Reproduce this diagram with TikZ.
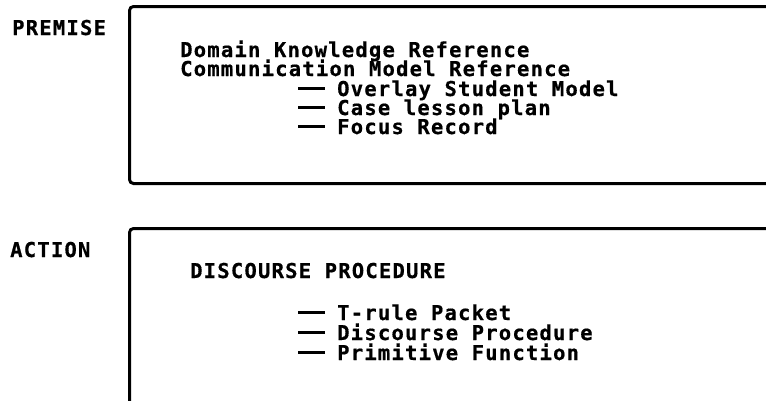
\documentclass[tikz,border=0pt]{standalone}
\usepackage{fontspec}
\newfontfamily\dmono{DejaVu Sans Mono}[LetterSpace=6,BoldFeatures={FakeBold=0.6}]
\newcommand{\itemdash}{\rule[6pt]{27pt}{3.5pt}\hspace{12pt}}
\begin{document}
\begin{tikzpicture}[x=1pt,y=-1pt,
  lbl/.style={anchor=base west,inner sep=0pt,font=\dmono\bfseries\fontsize{20.5pt}{20.5pt}\selectfont},
  framebox/.style={draw,line width=3pt,rounded corners=4pt,anchor=north west,inner sep=0pt}]
\useasboundingbox (0,0) rectangle (766,400);
\clip (0,0) rectangle (766,400);
% boxes
\node[framebox,minimum width=700pt,minimum height=177pt] (premisebox) at (128,5) {};
\node[framebox,minimum width=700pt,minimum height=220pt] (actionbox) at (128,227) {};
% labels
\node[lbl] (premise) at (12,35) {PREMISE};
\node[lbl] (action) at (10,257) {ACTION};
% premise content
\node[lbl] (p1) at (180,57) {Domain Knowledge Reference};
\node[lbl] (p2) at (180,76) {Communication Model Reference};
\node[lbl] (p3) at (298,96) {\itemdash Overlay Student Model};
\node[lbl] (p4) at (298,115) {\itemdash Case lesson plan};
\node[lbl] (p5) at (298,134) {\itemdash Focus Record};
% action content
\node[lbl] (a1) at (190,278) {DISCOURSE PROCEDURE};
\node[lbl] (a2) at (298,320) {\itemdash T-rule Packet};
\node[lbl] (a3) at (298,340) {\itemdash Discourse Procedure};
\node[lbl] (a4) at (298,360) {\itemdash Primitive Function};
\end{tikzpicture}
\end{document}
